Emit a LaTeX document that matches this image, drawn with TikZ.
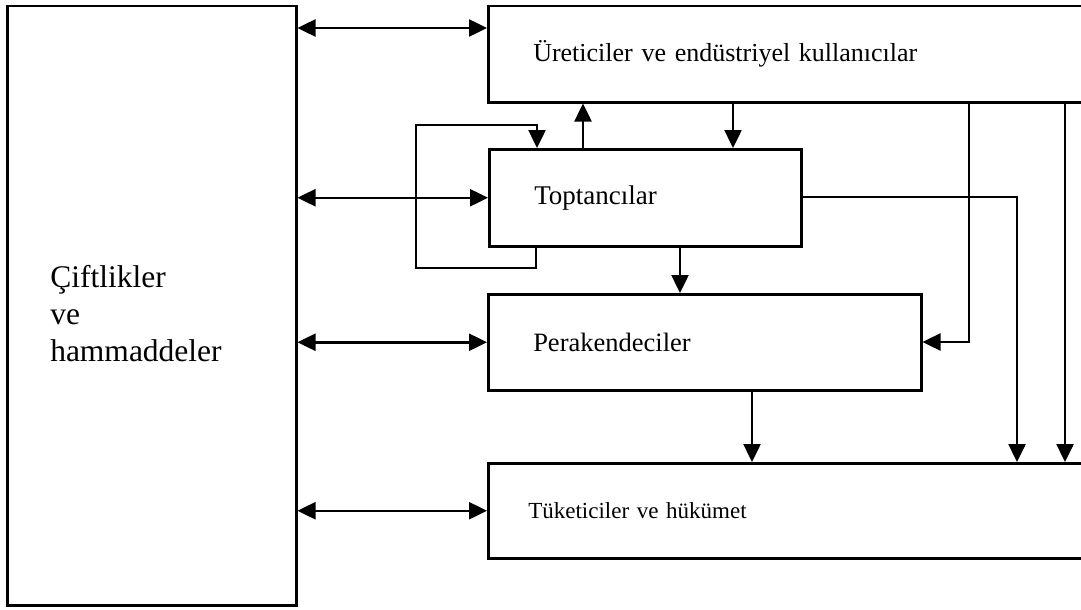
\documentclass[tikz,border=0pt]{standalone}
\usepackage{fontspec}
\setmainfont{Liberation Serif}
\usetikzlibrary{arrows.meta}
\begin{document}
\begin{tikzpicture}[x=1pt,y=-1pt,
  box/.style={draw,line width=2.5pt,rectangle,inner sep=0pt,anchor=north west,
    font=\fontsize{26}{31}\selectfont,align=left},
  conn/.style={line width=2.5pt},
  tip/.tip={Triangle[length=18pt,width=17pt]},
  arr/.style={conn,-tip},
  dbl/.style={conn,tip-tip}]
\useasboundingbox (0,0) rectangle (1081,610);
\clip (0,0) rectangle (1081,610);

% supply side block
\node[box,minimum width=289pt,minimum height=599pt,text width=203pt,
  font=\fontsize{31.5}{37}\selectfont] (farm) at (6,5)
  {\rule{0pt}{38pt}Çiftlikler\\ve\\hammaddeler};

% right hand blocks
\node[box,minimum width=613pt,minimum height=96pt,text width=523pt] (ure) at (487,5)
  {Üreticiler ve endüstriyel kullanıcılar};
\node[box,minimum width=312pt,minimum height=97pt,text width=222pt,
  font=\fontsize{27}{32}\selectfont] (top) at (488,148)
  {Toptancılar};
\node[box,minimum width=433pt,minimum height=96pt,text width=343pt,
  font=\fontsize{26.5}{32}\selectfont] (per) at (487,293)
  {Perakendeciler};
\node[box,minimum width=613pt,minimum height=95pt,text width=533pt,
  font=\fontsize{23}{28}\selectfont] (tuk) at (487,462)
  {Tüketiciler ve hükümet};

% two-way links to the farms block
\coordinate (u1) at ([yshift=-23pt]ure.north west);
\draw[dbl] (farm.east |- u1) -- (u1);
\draw[dbl] (farm.east |- top.west) -- (top.west);
\draw[dbl] (farm.east |- per.west) -- (per.west);
\draw[dbl] (farm.east |- tuk.west) -- (tuk.west);

% wholesalers trading among themselves
\coordinate (loopL) at (416,268);
\coordinate (loopT) at (416,125);
\draw[arr] ([xshift=48pt]top.south west) |- (loopL) -- (loopT)
  -| ([xshift=49pt]top.north west);

% links between wholesalers and producers
\coordinate (t1) at ([xshift=95pt]top.north west);
\draw[arr] (t1) -- (t1 |- ure.south);
\coordinate (u2) at (733,0);
\draw[arr] (u2 |- ure.south) -- (u2 |- top.north);

% wholesalers to retailers
\coordinate (t2) at (680,0);
\draw[arr] (t2 |- top.south) -- (t2 |- per.north);

% wholesalers to consumers
\coordinate (c1) at (1017,197);
\draw[arr] (top.east |- c1) -- (c1) -- (c1 |- tuk.north);

% producers to retailers
\coordinate (c2) at (969,342);
\draw[arr] (c2 |- ure.south) -- (c2) -- (per.east |- c2);

% producers to consumers
\coordinate (c3) at (1065,0);
\draw[arr] (c3 |- ure.south) -- (c3 |- tuk.north);

% retailers to consumers
\coordinate (c4) at (752,0);
\draw[arr] (c4 |- per.south) -- (c4 |- tuk.north);
\end{tikzpicture}
\end{document}
